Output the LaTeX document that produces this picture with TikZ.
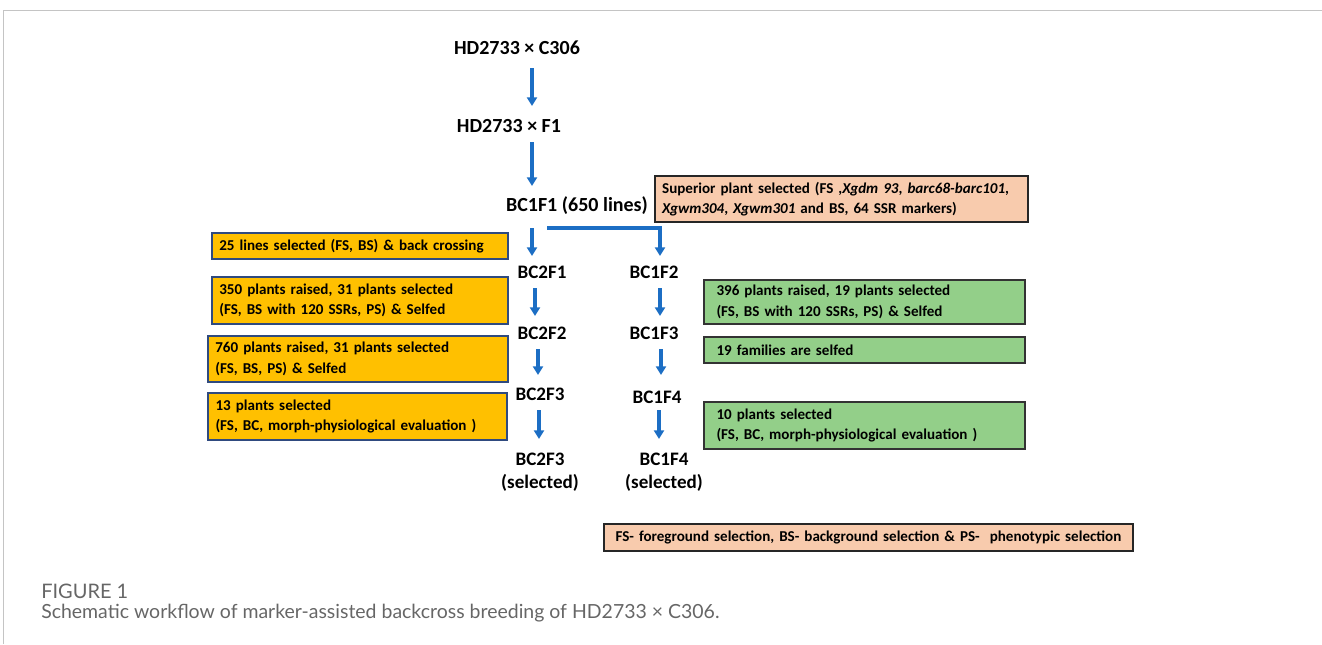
\documentclass[tikz,border=0pt]{standalone}
\usepackage{fontspec}
\setmainfont{Carlito}
\newfontfamily\capfont{Lato}
\usetikzlibrary{arrows.meta}
\definecolor{arrblue}{HTML}{1C6EC4}
\definecolor{orfill}{HTML}{FFC000}
\definecolor{orline}{HTML}{2F4A7F}
\definecolor{salfill}{HTML}{F8CBAD}
\definecolor{grfill}{HTML}{93CF89}
\definecolor{framegray}{HTML}{C4C4C4}
\definecolor{capgray}{HTML}{666666}
\tikzset{
  lbl/.style={inner sep=0pt, font=\bfseries\fontsize{15}{18}\selectfont},
  slbl/.style={inner sep=0pt, font=\bfseries\fontsize{14.3}{17.5}\selectfont, align=center},
  arr/.style={draw=arrblue, line width=2.3pt, -{Triangle[width=7.5pt,length=6.5pt]}},
  boxtxt/.style={font=\bfseries\fontsize{11.3}{15.3}\selectfont, align=left, inner ysep=0pt},
  obox/.style={boxtxt, draw=orline, fill=orfill, line width=1.1pt, inner xsep=5.5pt},
  sbox/.style={boxtxt, draw=black!85, fill=salfill, line width=1.1pt, inner xsep=5.5pt},
  gbox/.style={boxtxt, draw=black!80, fill=grfill, line width=1.1pt, inner xsep=9.5pt},
}
\begin{document}
\begin{tikzpicture}[x=0.75pt,y=-0.75pt]
\useasboundingbox (0,0) rectangle (1322,644);
% frame
\draw[framegray, line width=1pt] (3.5,644) -- (3.5,10.5) -- (1322,10.5);

% main labels
\node[lbl] (hd1) at (517,48) {HD2733 × C306};
\node[lbl] (hd2) at (509,126) {HD2733 × F1};
\node[lbl] (bc11) at (577,206) {BC1F1 (650 lines)};
\node[slbl] (bc21) at (542,272) {BC2F1};
\node[slbl] (bc12) at (654,272) {BC1F2};
\node[slbl] (bc22) at (542,333) {BC2F2};
\node[slbl] (bc13) at (654,333) {BC1F3};
\node[slbl] (bc23) at (540,394) {BC2F3};
\node[slbl] (bc14) at (657,397) {BC1F4};
\node[slbl] (bc23s) at (540,472) {BC2F3\\(selected)};
\node[slbl] (bc14s) at (664,472) {BC1F4\\(selected)};

% arrows
\coordinate (a1s) at (532,68);  \coordinate (a1e) at (532,106);
\coordinate (a2s) at (532,142); \coordinate (a2e) at (532,186);
\coordinate (a3s) at (532,228); \coordinate (a3e) at (532,256);
\coordinate (b0) at (547,228);  \coordinate (b1) at (660,228); \coordinate (b2) at (660,256);
\coordinate (l1s) at (535,288); \coordinate (l1e) at (535,316);
\coordinate (r1s) at (660,288); \coordinate (r1e) at (660,316);
\coordinate (l2s) at (538,349); \coordinate (l2e) at (538,375);
\coordinate (r2s) at (661,349); \coordinate (r2e) at (661,375);
\coordinate (l3s) at (539,410); \coordinate (l3e) at (539,439);
\coordinate (r3s) at (659,410); \coordinate (r3e) at (659,439);
\draw[arr] (a1s) -- (a1e);
\draw[arr] (a2s) -- (a2e);
\draw[arr] (a3s) -- (a3e);
\draw[arr] (b0) -- (b1) -- (b2);
\draw[arr] (l1s) -- (l1e);
\draw[arr] (r1s) -- (r1e);
\draw[arr] (l2s) -- (l2e);
\draw[arr] (r2s) -- (r2e);
\draw[arr] (l3s) -- (l3e);
\draw[arr] (r3s) -- (r3e);

% orange boxes
\node[obox, minimum width=222pt, text width=211pt, minimum height=19.5pt] (o1) at (360,246)
  {25 lines selected (FS, BS) \& back crossing};
\node[obox, minimum width=222pt, text width=211pt, minimum height=35pt] (o2) at (360,300.5)
  {350 plants raised, 31 plants selected\\(FS, BS with 120 SSRs, PS) \& Selfed};
\node[obox, minimum width=225pt, text width=214pt, minimum height=34.5pt] (o3) at (358,359)
  {760 plants raised, 31 plants selected\\(FS, BS, PS) \& Selfed};
\node[obox, minimum width=224pt, text width=213pt, minimum height=35pt] (o4) at (357.5,416.5)
  {13 plants selected\\(FS, BC, morph-physiological evaluation )};

% salmon boxes
\node[sbox, minimum width=280pt, text width=269pt, minimum height=34.5pt] (s1) at (841.5,199)
  {Superior plant selected (FS ,\textit{Xgdm 93}, \textit{barc68-barc101},\\\textit{Xgwm304}, \textit{Xgwm301} and BS, 64 SSR markers)};
\node[sbox, align=center, minimum width=397pt, text width=386pt, minimum height=20pt] (leg) at (868.5,537.5)
  {FS- foreground selection, BS- background selection \& PS-\ \ phenotypic selection};

% green boxes
\node[gbox, minimum width=241pt, text width=222pt, minimum height=33pt] (g1) at (864.5,302)
  {396 plants raised, 19 plants selected\\(FS, BS with 120 SSRs, PS) \& Selfed};
\node[gbox, minimum width=241pt, text width=222pt, minimum height=19.5pt] (g2) at (864.5,350)
  {19 families are selfed};
\node[gbox, minimum width=241pt, text width=222pt, minimum height=35pt] (g3) at (864.5,425.5)
  {10 plants selected\\(FS, BC, morph-physiological evaluation )};

% caption
\node[anchor=base west, inner sep=0pt, text=capgray, font=\capfont\fontsize{15}{17}\selectfont] (fig) at (41,598) {FIGURE 1};
\node[anchor=base west, inner sep=0pt, text=capgray, font=\capfont\fontsize{14.6}{17}\selectfont] (cap) at (41,618)
  {Schematic workflow of marker-assisted backcross breeding of HD2733 × C306.};
\end{tikzpicture}
\end{document}
